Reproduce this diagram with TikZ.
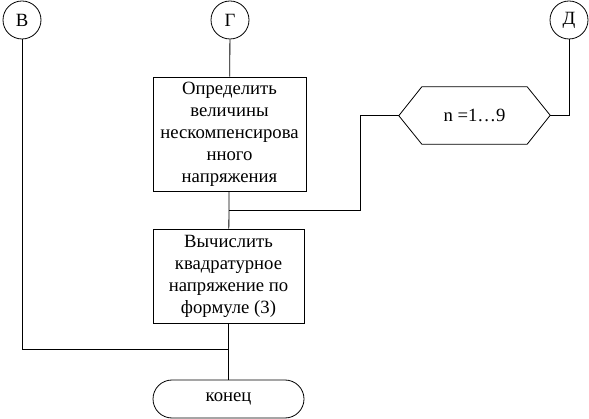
\documentclass[tikz,border=0pt]{standalone}
\usepackage{fontspec}
\setmainfont{Liberation Serif}
\usetikzlibrary{positioning,calc,shapes.misc}
\tikzset{
  txt/.style={font=\fontsize{18.7}{22}\selectfont},
  % off-page connectors
  conn/.style={draw, circle, minimum size=38pt, inner sep=0pt, line width=0.8pt, txt},
  % action boxes
  proc/.style={draw, rectangle, align=center, inner sep=0pt, line width=0.8pt, txt},
  % the end
  term/.style={draw, rounded rectangle, minimum width=151pt, minimum height=38pt,
    inner sep=0pt, line width=0.8pt, txt},
  link/.style={line width=0.8pt},
}
\begin{document}
\begin{tikzpicture}[x=1pt,y=-1pt]
  \useasboundingbox[fill=white] (0,0) rectangle (589,419);
  % connectors at the top
  \node[conn] (vB) at (22,20) {В};
  \node[conn] (vG) at (230,20) {Г};
  \node[conn] (vD) at (569,20) {Д};
  % the two steps
  \node[proc, minimum width=153pt, minimum height=114pt] (defn) at (229.5,134)
    {Определить\\величины\\нескомпенсирова\\нного\\напряжения};
  \node[proc, minimum width=151pt, minimum height=94pt] (calc) at (228.5,276)
    {Вычислить\\квадратурное\\напряжение по\\формуле (3)};
  \node[term] (endn) at (228.5,399) {конец};
  % the loop
  \node[txt, minimum width=105pt, minimum height=57pt, inner sep=0pt] (loop) at (474.5,115.5) {n =1…9};
  \draw[link] (loop.north west) -- (loop.north east) -- ++(23,28.5) coordinate (loopE)
    -- (loop.south east) -- (loop.south west) -- ++(-23,-28.5) coordinate (loopW) -- cycle;
  \coordinate (jn1) at ($(defn.south)!0.5!(calc.north)$);
  \coordinate (jn2) at ($(calc.south)!0.47!(endn.north)$);
  \draw[link] (vG) -- (defn);
  \draw[link] (defn) -- (calc);
  \draw[link] (calc) -- (endn);
  \draw[link] (vD) |- (loopE);
  \draw[link] (loopW) -- ++(-38,0) |- (jn1);
  \draw[link] (vB) |- (jn2);
\end{tikzpicture}
\end{document}
